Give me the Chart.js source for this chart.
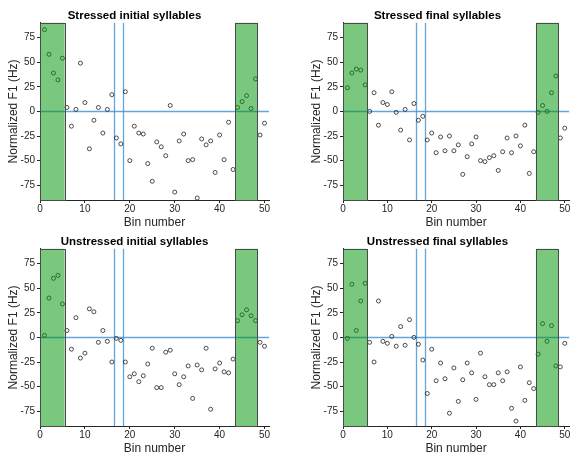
<!DOCTYPE html>
<html>
<head>
<meta charset="utf-8">
<script src="https://cdn.jsdelivr.net/npm/chart.js@4.4.1/dist/chart.umd.min.js"></script>
<style>
body { margin: 0; background: #fff; width: 574px; height: 452px; position: relative; overflow: hidden; }
canvas { position: absolute; }
</style>
</head>
<body>
<canvas id="c1" width="287" height="232" style="left:0;top:0"></canvas>
<canvas id="c2" width="287" height="232" style="left:287px;top:0"></canvas>
<canvas id="c3" width="287" height="226" style="left:0;top:226px"></canvas>
<canvas id="c4" width="287" height="226" style="left:287px;top:226px"></canvas>
<script>
// bins 1..50
var bins = [1,2,3,4,5,6,7,8,9,10,11,12,13,14,15,16,17,18,19,20,
  21,22,23,24,25,26,27,28,29,30,31,32,33,34,35,36,37,38,39,40,
  41,42,43,44,45,46,47,48,49,50]

var stressedInitial = [83,58,39,32,54,4,-15,2,49,9,-38,-9,4,-22,2,17,-27,-33,20,-50,
  -15,-22,-23,-53,-71,-31,-36,-45,6,-82,-30,-23,-50,-49,-88,-28,-34,-30,-62,-24,
  -49,-11,-59,4,10,16,3,33,-24,-12]
var stressedFinal = [24,39,43,42,27,0,19,-14,9,7,20,-1,-19,2,-29,8,-9,-5,-29,-22,
  -42,-26,-40,-25,-40,-34,-64,-46,-33,-26,-50,-51,-47,-45,-60,-41,-27,-42,-25,-35,
  -14,-63,-41,-1,6,0,19,36,-27,-17]
var unstressedInitial = [2,40,60,63,34,7,-12,20,-21,-16,29,26,-5,7,-4,-25,-1,-3,-25,-40,
  -37,-45,-39,-27,-11,-51,-51,-15,-13,-37,-48,-40,-29,-62,-28,-33,-11,-73,-32,-26,
  -35,-36,-22,17,23,28,22,17,-5,-9]
var unstressedFinal = [-1,54,7,37,55,-5,-25,37,-4,-6,1,-9,11,-8,18,0,-7,-23,-57,-12,
  -44,-26,-42,-77,-31,-65,-43,-26,-36,-63,-16,-40,-48,-48,-36,-44,-35,-72,-85,-30,
  -64,-46,-52,-17,14,-4,12,-29,-30,-6]

var titles = ['Stressed initial syllables', 'Stressed final syllables',
  'Unstressed initial syllables', 'Unstressed final syllables']
var series = [stressedInitial, stressedFinal, unstressedInitial, unstressedFinal]

var xTicks = [0,10,20,30,40,50]
var yTicks = [-75,-50,-25,0,25,50,75]
var shadedRanges = [[0,5.5],[43.5,48.5]]
var markerLines = [16.5,18.5]

var overlay = {
  id: 'overlay',
  beforeDatasetsDraw: function(chart) {
    var ctx = chart.ctx, a = chart.chartArea, x = chart.scales.x, y = chart.scales.y
    ctx.save()
    ctx.strokeStyle = 'rgba(70,150,215,0.85)'
    ctx.lineWidth = 1.3
    markerLines.forEach(function(v) {
      var px = Math.round(x.getPixelForValue(v)) + 0.5
      ctx.beginPath(); ctx.moveTo(px, a.top); ctx.lineTo(px, a.bottom); ctx.stroke()
    })
    var py = Math.round(y.getPixelForValue(0)) + 0.5
    ctx.beginPath(); ctx.moveTo(a.left, py); ctx.lineTo(a.right, py); ctx.stroke()
    ctx.restore()
  },
  afterDatasetsDraw: function(chart) {
    var ctx = chart.ctx, a = chart.chartArea, x = chart.scales.x
    ctx.save()
    shadedRanges.forEach(function(r) {
      var x0 = x.getPixelForValue(r[0]), x1 = x.getPixelForValue(r[1])
      ctx.fillStyle = 'rgba(0,150,5,0.52)'
      ctx.fillRect(x0, a.top, x1 - x0, a.bottom - a.top)
      ctx.strokeStyle = '#4a4a4a'
      ctx.lineWidth = 1
      ctx.strokeRect(Math.round(x0) + 0.5, Math.round(a.top) + 0.5, Math.round(x1 - x0), Math.round(a.bottom - a.top))
    })
    ctx.restore()
  }
}

function makeChart(id, idx, padLeft, padRight, padBottom) {
  var vals = series[idx]
  return new Chart(document.getElementById(id), {
    type: 'scatter',
    data: {
      datasets: [{
        data: bins.map(function(b, i) { return {x: b, y: vals[i]} }),
        pointStyle: 'circle',
        pointRadius: 2,
        pointBackgroundColor: 'rgba(0,0,0,0)',
        pointBorderColor: '#222',
        pointBorderWidth: 0.8
      }]
    },
    options: {
      responsive: false,
      animation: false,
      layout: { padding: { left: padLeft, right: padRight, top: 0, bottom: padBottom } },
      plugins: {
        legend: { display: false },
        tooltip: { enabled: false },
        title: {
          display: true,
          text: titles[idx],
          color: '#000',
          font: { family: 'Liberation Sans', size: 11.5, weight: 'bold' },
          padding: { top: 9, bottom: 0 }
        }
      },
      scales: {
        x: {
          type: 'linear', min: 0, max: 51,
          afterBuildTicks: function(s) { s.ticks = xTicks.map(function(v) { return {value: v} }) },
          afterFit: function(s) { s.height = 26 },
          grid: { drawOnChartArea: false, tickLength: 3, color: '#262626' },
          border: { color: '#262626' },
          ticks: { color: '#262626', padding: 0, maxRotation: 0,
            font: { family: 'Liberation Sans', size: 10 } },
          title: { display: true, text: 'Bin number', color: '#262626',
            padding: { top: 0, bottom: -3 },
            font: { family: 'Liberation Sans', size: 12, lineHeight: 1 } }
        },
        y: {
          min: -90, max: 90,
          afterBuildTicks: function(s) { s.ticks = yTicks.map(function(v) { return {value: v} }) },
          afterFit: function(s) { s.width = 40 },
          grid: { drawOnChartArea: false, tickLength: 3, color: '#262626' },
          border: { color: '#262626' },
          ticks: { color: '#262626', padding: 2,
            font: { family: 'Liberation Sans', size: 10 } },
          title: { display: true, text: 'Normalized F1 (Hz)', color: '#262626',
            padding: { top: 6, bottom: 0 },
            font: { family: 'Liberation Sans', size: 12 } }
        }
      }
    },
    plugins: [overlay]
  })
}

makeChart('c1', 0, 0, 18, 6)
makeChart('c2', 1, 16, 2, 6)
makeChart('c3', 2, 0, 18, 0)
makeChart('c4', 3, 16, 2, 0)
</script>
</body>
</html>
